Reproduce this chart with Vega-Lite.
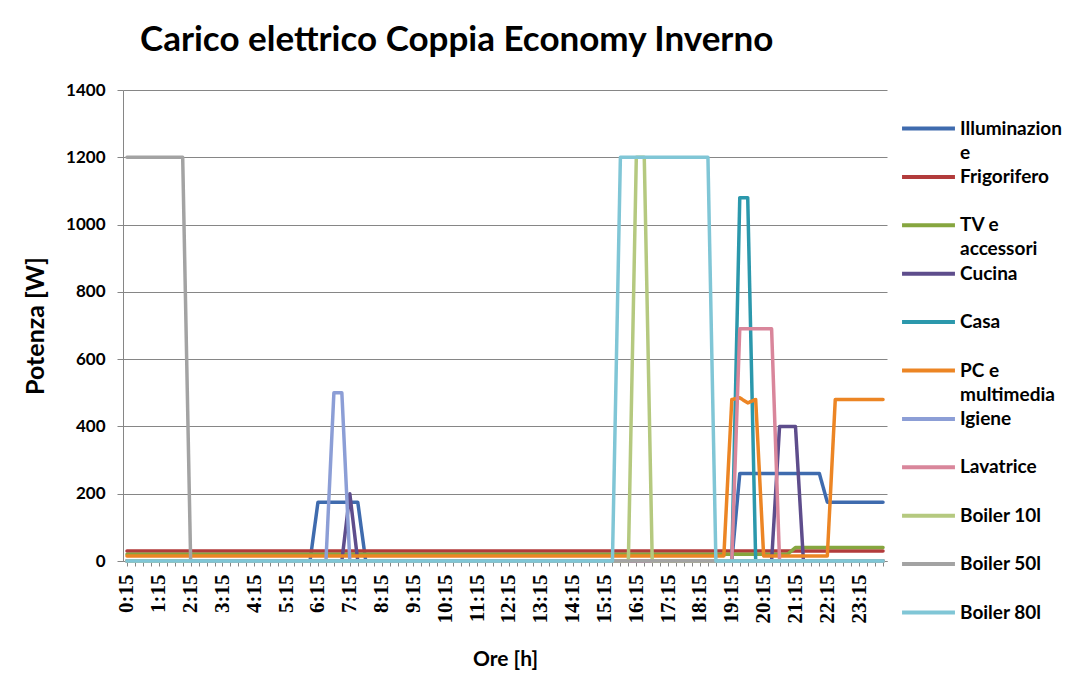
{
  "$schema": "https://vega.github.io/schema/vega-lite/v6.json",
  "width": 764,
  "height": 471,
  "autosize": "none",
  "padding": {"left": 123, "top": 90, "right": 183, "bottom": 121},
  "background": "white",
  "title": {"text": "Carico elettrico Coppia Economy Inverno", "anchor": "start", "frame": "group", "dx": 17, "offset": 23, "fontSize": 35, "font": "Lato", "fontWeight": "bold", "color": "black"},
  "data": {"values": [
{"t":"0:15","IL":0,"FR":30,"TV":20,"CU":0,"CA":0,"PC":15,"IG":0,"LA":0,"B10":0,"B50":1200,"B80":0},
{"t":"0:30","IL":0,"FR":30,"TV":20,"CU":0,"CA":0,"PC":15,"IG":0,"LA":0,"B10":0,"B50":1200,"B80":0},
{"t":"0:45","IL":0,"FR":30,"TV":20,"CU":0,"CA":0,"PC":15,"IG":0,"LA":0,"B10":0,"B50":1200,"B80":0},
{"t":"1:00","IL":0,"FR":30,"TV":20,"CU":0,"CA":0,"PC":15,"IG":0,"LA":0,"B10":0,"B50":1200,"B80":0},
{"t":"1:15","IL":0,"FR":30,"TV":20,"CU":0,"CA":0,"PC":15,"IG":0,"LA":0,"B10":0,"B50":1200,"B80":0},
{"t":"1:30","IL":0,"FR":30,"TV":20,"CU":0,"CA":0,"PC":15,"IG":0,"LA":0,"B10":0,"B50":1200,"B80":0},
{"t":"1:45","IL":0,"FR":30,"TV":20,"CU":0,"CA":0,"PC":15,"IG":0,"LA":0,"B10":0,"B50":1200,"B80":0},
{"t":"2:00","IL":0,"FR":30,"TV":20,"CU":0,"CA":0,"PC":15,"IG":0,"LA":0,"B10":0,"B50":1200,"B80":0},
{"t":"2:15","IL":0,"FR":30,"TV":20,"CU":0,"CA":0,"PC":15,"IG":0,"LA":0,"B10":0,"B50":0,"B80":0},
{"t":"2:30","IL":0,"FR":30,"TV":20,"CU":0,"CA":0,"PC":15,"IG":0,"LA":0,"B10":0,"B50":0,"B80":0},
{"t":"2:45","IL":0,"FR":30,"TV":20,"CU":0,"CA":0,"PC":15,"IG":0,"LA":0,"B10":0,"B50":0,"B80":0},
{"t":"3:00","IL":0,"FR":30,"TV":20,"CU":0,"CA":0,"PC":15,"IG":0,"LA":0,"B10":0,"B50":0,"B80":0},
{"t":"3:15","IL":0,"FR":30,"TV":20,"CU":0,"CA":0,"PC":15,"IG":0,"LA":0,"B10":0,"B50":0,"B80":0},
{"t":"3:30","IL":0,"FR":30,"TV":20,"CU":0,"CA":0,"PC":15,"IG":0,"LA":0,"B10":0,"B50":0,"B80":0},
{"t":"3:45","IL":0,"FR":30,"TV":20,"CU":0,"CA":0,"PC":15,"IG":0,"LA":0,"B10":0,"B50":0,"B80":0},
{"t":"4:00","IL":0,"FR":30,"TV":20,"CU":0,"CA":0,"PC":15,"IG":0,"LA":0,"B10":0,"B50":0,"B80":0},
{"t":"4:15","IL":0,"FR":30,"TV":20,"CU":0,"CA":0,"PC":15,"IG":0,"LA":0,"B10":0,"B50":0,"B80":0},
{"t":"4:30","IL":0,"FR":30,"TV":20,"CU":0,"CA":0,"PC":15,"IG":0,"LA":0,"B10":0,"B50":0,"B80":0},
{"t":"4:45","IL":0,"FR":30,"TV":20,"CU":0,"CA":0,"PC":15,"IG":0,"LA":0,"B10":0,"B50":0,"B80":0},
{"t":"5:00","IL":0,"FR":30,"TV":20,"CU":0,"CA":0,"PC":15,"IG":0,"LA":0,"B10":0,"B50":0,"B80":0},
{"t":"5:15","IL":0,"FR":30,"TV":20,"CU":0,"CA":0,"PC":15,"IG":0,"LA":0,"B10":0,"B50":0,"B80":0},
{"t":"5:30","IL":0,"FR":30,"TV":20,"CU":0,"CA":0,"PC":15,"IG":0,"LA":0,"B10":0,"B50":0,"B80":0},
{"t":"5:45","IL":0,"FR":30,"TV":20,"CU":0,"CA":0,"PC":15,"IG":0,"LA":0,"B10":0,"B50":0,"B80":0},
{"t":"6:00","IL":0,"FR":30,"TV":20,"CU":0,"CA":0,"PC":15,"IG":0,"LA":0,"B10":0,"B50":0,"B80":0},
{"t":"6:15","IL":175,"FR":30,"TV":20,"CU":0,"CA":0,"PC":15,"IG":0,"LA":0,"B10":0,"B50":0,"B80":0},
{"t":"6:30","IL":175,"FR":30,"TV":20,"CU":0,"CA":0,"PC":15,"IG":0,"LA":0,"B10":0,"B50":0,"B80":0},
{"t":"6:45","IL":175,"FR":30,"TV":20,"CU":0,"CA":0,"PC":15,"IG":500,"LA":0,"B10":0,"B50":0,"B80":0},
{"t":"7:00","IL":175,"FR":30,"TV":20,"CU":0,"CA":0,"PC":15,"IG":500,"LA":0,"B10":0,"B50":0,"B80":0},
{"t":"7:15","IL":175,"FR":30,"TV":20,"CU":200,"CA":0,"PC":15,"IG":0,"LA":0,"B10":0,"B50":0,"B80":0},
{"t":"7:30","IL":175,"FR":30,"TV":20,"CU":0,"CA":0,"PC":15,"IG":0,"LA":0,"B10":0,"B50":0,"B80":0},
{"t":"7:45","IL":0,"FR":30,"TV":20,"CU":0,"CA":0,"PC":15,"IG":0,"LA":0,"B10":0,"B50":0,"B80":0},
{"t":"8:00","IL":0,"FR":30,"TV":20,"CU":0,"CA":0,"PC":15,"IG":0,"LA":0,"B10":0,"B50":0,"B80":0},
{"t":"8:15","IL":0,"FR":30,"TV":20,"CU":0,"CA":0,"PC":15,"IG":0,"LA":0,"B10":0,"B50":0,"B80":0},
{"t":"8:30","IL":0,"FR":30,"TV":20,"CU":0,"CA":0,"PC":15,"IG":0,"LA":0,"B10":0,"B50":0,"B80":0},
{"t":"8:45","IL":0,"FR":30,"TV":20,"CU":0,"CA":0,"PC":15,"IG":0,"LA":0,"B10":0,"B50":0,"B80":0},
{"t":"9:00","IL":0,"FR":30,"TV":20,"CU":0,"CA":0,"PC":15,"IG":0,"LA":0,"B10":0,"B50":0,"B80":0},
{"t":"9:15","IL":0,"FR":30,"TV":20,"CU":0,"CA":0,"PC":15,"IG":0,"LA":0,"B10":0,"B50":0,"B80":0},
{"t":"9:30","IL":0,"FR":30,"TV":20,"CU":0,"CA":0,"PC":15,"IG":0,"LA":0,"B10":0,"B50":0,"B80":0},
{"t":"9:45","IL":0,"FR":30,"TV":20,"CU":0,"CA":0,"PC":15,"IG":0,"LA":0,"B10":0,"B50":0,"B80":0},
{"t":"10:00","IL":0,"FR":30,"TV":20,"CU":0,"CA":0,"PC":15,"IG":0,"LA":0,"B10":0,"B50":0,"B80":0},
{"t":"10:15","IL":0,"FR":30,"TV":20,"CU":0,"CA":0,"PC":15,"IG":0,"LA":0,"B10":0,"B50":0,"B80":0},
{"t":"10:30","IL":0,"FR":30,"TV":20,"CU":0,"CA":0,"PC":15,"IG":0,"LA":0,"B10":0,"B50":0,"B80":0},
{"t":"10:45","IL":0,"FR":30,"TV":20,"CU":0,"CA":0,"PC":15,"IG":0,"LA":0,"B10":0,"B50":0,"B80":0},
{"t":"11:00","IL":0,"FR":30,"TV":20,"CU":0,"CA":0,"PC":15,"IG":0,"LA":0,"B10":0,"B50":0,"B80":0},
{"t":"11:15","IL":0,"FR":30,"TV":20,"CU":0,"CA":0,"PC":15,"IG":0,"LA":0,"B10":0,"B50":0,"B80":0},
{"t":"11:30","IL":0,"FR":30,"TV":20,"CU":0,"CA":0,"PC":15,"IG":0,"LA":0,"B10":0,"B50":0,"B80":0},
{"t":"11:45","IL":0,"FR":30,"TV":20,"CU":0,"CA":0,"PC":15,"IG":0,"LA":0,"B10":0,"B50":0,"B80":0},
{"t":"12:00","IL":0,"FR":30,"TV":20,"CU":0,"CA":0,"PC":15,"IG":0,"LA":0,"B10":0,"B50":0,"B80":0},
{"t":"12:15","IL":0,"FR":30,"TV":20,"CU":0,"CA":0,"PC":15,"IG":0,"LA":0,"B10":0,"B50":0,"B80":0},
{"t":"12:30","IL":0,"FR":30,"TV":20,"CU":0,"CA":0,"PC":15,"IG":0,"LA":0,"B10":0,"B50":0,"B80":0},
{"t":"12:45","IL":0,"FR":30,"TV":20,"CU":0,"CA":0,"PC":15,"IG":0,"LA":0,"B10":0,"B50":0,"B80":0},
{"t":"13:00","IL":0,"FR":30,"TV":20,"CU":0,"CA":0,"PC":15,"IG":0,"LA":0,"B10":0,"B50":0,"B80":0},
{"t":"13:15","IL":0,"FR":30,"TV":20,"CU":0,"CA":0,"PC":15,"IG":0,"LA":0,"B10":0,"B50":0,"B80":0},
{"t":"13:30","IL":0,"FR":30,"TV":20,"CU":0,"CA":0,"PC":15,"IG":0,"LA":0,"B10":0,"B50":0,"B80":0},
{"t":"13:45","IL":0,"FR":30,"TV":20,"CU":0,"CA":0,"PC":15,"IG":0,"LA":0,"B10":0,"B50":0,"B80":0},
{"t":"14:00","IL":0,"FR":30,"TV":20,"CU":0,"CA":0,"PC":15,"IG":0,"LA":0,"B10":0,"B50":0,"B80":0},
{"t":"14:15","IL":0,"FR":30,"TV":20,"CU":0,"CA":0,"PC":15,"IG":0,"LA":0,"B10":0,"B50":0,"B80":0},
{"t":"14:30","IL":0,"FR":30,"TV":20,"CU":0,"CA":0,"PC":15,"IG":0,"LA":0,"B10":0,"B50":0,"B80":0},
{"t":"14:45","IL":0,"FR":30,"TV":20,"CU":0,"CA":0,"PC":15,"IG":0,"LA":0,"B10":0,"B50":0,"B80":0},
{"t":"15:00","IL":0,"FR":30,"TV":20,"CU":0,"CA":0,"PC":15,"IG":0,"LA":0,"B10":0,"B50":0,"B80":0},
{"t":"15:15","IL":0,"FR":30,"TV":20,"CU":0,"CA":0,"PC":15,"IG":0,"LA":0,"B10":0,"B50":0,"B80":0},
{"t":"15:30","IL":0,"FR":30,"TV":20,"CU":0,"CA":0,"PC":15,"IG":0,"LA":0,"B10":0,"B50":0,"B80":0},
{"t":"15:45","IL":0,"FR":30,"TV":20,"CU":0,"CA":0,"PC":15,"IG":0,"LA":0,"B10":0,"B50":0,"B80":1200},
{"t":"16:00","IL":0,"FR":30,"TV":20,"CU":0,"CA":0,"PC":15,"IG":0,"LA":0,"B10":0,"B50":0,"B80":1200},
{"t":"16:15","IL":0,"FR":30,"TV":20,"CU":0,"CA":0,"PC":15,"IG":0,"LA":0,"B10":1200,"B50":0,"B80":1200},
{"t":"16:30","IL":0,"FR":30,"TV":20,"CU":0,"CA":0,"PC":15,"IG":0,"LA":0,"B10":1200,"B50":0,"B80":1200},
{"t":"16:45","IL":0,"FR":30,"TV":20,"CU":0,"CA":0,"PC":15,"IG":0,"LA":0,"B10":0,"B50":0,"B80":1200},
{"t":"17:00","IL":0,"FR":30,"TV":20,"CU":0,"CA":0,"PC":15,"IG":0,"LA":0,"B10":0,"B50":0,"B80":1200},
{"t":"17:15","IL":0,"FR":30,"TV":20,"CU":0,"CA":0,"PC":15,"IG":0,"LA":0,"B10":0,"B50":0,"B80":1200},
{"t":"17:30","IL":0,"FR":30,"TV":20,"CU":0,"CA":0,"PC":15,"IG":0,"LA":0,"B10":0,"B50":0,"B80":1200},
{"t":"17:45","IL":0,"FR":30,"TV":20,"CU":0,"CA":0,"PC":15,"IG":0,"LA":0,"B10":0,"B50":0,"B80":1200},
{"t":"18:00","IL":0,"FR":30,"TV":20,"CU":0,"CA":0,"PC":15,"IG":0,"LA":0,"B10":0,"B50":0,"B80":1200},
{"t":"18:15","IL":0,"FR":30,"TV":20,"CU":0,"CA":0,"PC":15,"IG":0,"LA":0,"B10":0,"B50":0,"B80":1200},
{"t":"18:30","IL":0,"FR":30,"TV":20,"CU":0,"CA":0,"PC":15,"IG":0,"LA":0,"B10":0,"B50":0,"B80":1200},
{"t":"18:45","IL":0,"FR":30,"TV":20,"CU":0,"CA":0,"PC":15,"IG":0,"LA":0,"B10":0,"B50":0,"B80":0},
{"t":"19:00","IL":0,"FR":30,"TV":20,"CU":0,"CA":0,"PC":15,"IG":0,"LA":0,"B10":0,"B50":0,"B80":0},
{"t":"19:15","IL":0,"FR":30,"TV":20,"CU":0,"CA":0,"PC":480,"IG":0,"LA":0,"B10":0,"B50":0,"B80":0},
{"t":"19:30","IL":260,"FR":30,"TV":20,"CU":0,"CA":1080,"PC":485,"IG":0,"LA":690,"B10":0,"B50":0,"B80":0},
{"t":"19:45","IL":260,"FR":30,"TV":20,"CU":0,"CA":1080,"PC":470,"IG":0,"LA":690,"B10":0,"B50":0,"B80":0},
{"t":"20:00","IL":260,"FR":30,"TV":20,"CU":0,"CA":0,"PC":480,"IG":0,"LA":690,"B10":0,"B50":0,"B80":0},
{"t":"20:15","IL":260,"FR":30,"TV":20,"CU":0,"CA":0,"PC":15,"IG":0,"LA":690,"B10":0,"B50":0,"B80":0},
{"t":"20:30","IL":260,"FR":30,"TV":20,"CU":0,"CA":0,"PC":15,"IG":0,"LA":690,"B10":0,"B50":0,"B80":0},
{"t":"20:45","IL":260,"FR":30,"TV":20,"CU":400,"CA":0,"PC":15,"IG":0,"LA":0,"B10":0,"B50":0,"B80":0},
{"t":"21:00","IL":260,"FR":30,"TV":20,"CU":400,"CA":0,"PC":15,"IG":0,"LA":0,"B10":0,"B50":0,"B80":0},
{"t":"21:15","IL":260,"FR":30,"TV":40,"CU":400,"CA":0,"PC":15,"IG":0,"LA":0,"B10":0,"B50":0,"B80":0},
{"t":"21:30","IL":260,"FR":30,"TV":40,"CU":0,"CA":0,"PC":15,"IG":0,"LA":0,"B10":0,"B50":0,"B80":0},
{"t":"21:45","IL":260,"FR":30,"TV":40,"CU":0,"CA":0,"PC":15,"IG":0,"LA":0,"B10":0,"B50":0,"B80":0},
{"t":"22:00","IL":260,"FR":30,"TV":40,"CU":0,"CA":0,"PC":15,"IG":0,"LA":0,"B10":0,"B50":0,"B80":0},
{"t":"22:15","IL":175,"FR":30,"TV":40,"CU":0,"CA":0,"PC":15,"IG":0,"LA":0,"B10":0,"B50":0,"B80":0},
{"t":"22:30","IL":175,"FR":30,"TV":40,"CU":0,"CA":0,"PC":480,"IG":0,"LA":0,"B10":0,"B50":0,"B80":0},
{"t":"22:45","IL":175,"FR":30,"TV":40,"CU":0,"CA":0,"PC":480,"IG":0,"LA":0,"B10":0,"B50":0,"B80":0},
{"t":"23:00","IL":175,"FR":30,"TV":40,"CU":0,"CA":0,"PC":480,"IG":0,"LA":0,"B10":0,"B50":0,"B80":0},
{"t":"23:15","IL":175,"FR":30,"TV":40,"CU":0,"CA":0,"PC":480,"IG":0,"LA":0,"B10":0,"B50":0,"B80":0},
{"t":"23:30","IL":175,"FR":30,"TV":40,"CU":0,"CA":0,"PC":480,"IG":0,"LA":0,"B10":0,"B50":0,"B80":0},
{"t":"23:45","IL":175,"FR":30,"TV":40,"CU":0,"CA":0,"PC":480,"IG":0,"LA":0,"B10":0,"B50":0,"B80":0},
{"t":"0:00","IL":175,"FR":30,"TV":40,"CU":0,"CA":0,"PC":480,"IG":0,"LA":0,"B10":0,"B50":0,"B80":0}
  ]},
  "transform": [
    {"fold": ["IL", "FR", "TV", "CU", "CA", "PC", "IG", "LA", "B10", "B50", "B80"], "as": ["serie", "W"]}
  ],
  "mark": {"type": "line", "strokeWidth": 3.5, "strokeJoin": "round", "strokeCap": "round"},
  "encoding": {
    "x": {
      "field": "t", "type": "ordinal", "sort": null,
      "scale": {"type": "point", "padding": 0.5},
      "axis": {
        "title": "Ore [h]", "labelAngle": 270, "labelOverlap": false,
        "labelExpr": "slice(datum.value, -2) == '15' ? datum.value : ''",
        "labelFont": "Liberation Serif", "labelFontSize": 21, "labelFontWeight": "bold", "labelColor": "black", "labelPadding": 8,
        "tickSize": 5, "tickColor": "#868686", "domainColor": "#868686",
        "titleFontSize": 21, "titleFontWeight": "bold", "titleColor": "black", "titlePadding": 26,
        "grid": false
      }
    },
    "y": {
      "field": "W", "type": "quantitative",
      "scale": {"domain": [0, 1400], "nice": false},
      "axis": {
        "title": "Potenza [W]", "values": [0, 200, 400, 600, 800, 1000, 1200, 1400], "format": "d",
        "labelFontSize": 17, "labelFontWeight": "bold", "labelColor": "black", "labelPadding": 12,
        "tickSize": 6, "tickColor": "#868686", "domainColor": "#868686",
        "grid": true, "gridColor": "#868686", "gridWidth": 1,
        "titleFontSize": 25, "titleFontWeight": "bold", "titleColor": "black", "titlePadding": 17
      }
    },
    "color": {
      "field": "serie", "type": "nominal",
      "scale": {
        "domain": ["IL", "FR", "TV", "CU", "CA", "PC", "IG", "LA", "B10", "B50", "B80"],
        "range": ["#3F6BAE", "#B23B3B", "#86A63F", "#5E4D8C", "#2B98AC", "#EC8524", "#8C9ED6", "#D9869B", "#B5C97F", "#A3A3A3", "#80C6D6"]
      },
      "legend": {
        "title": null, "orient": "none", "legendX": 777, "legendY": 10,
        "symbolType": "stroke", "symbolStrokeWidth": 4, "symbolSize": 2800,
        "labelFontSize": 19, "labelFontWeight": "bold", "labelColor": "black", "labelLimit": 200,
        "labelOffset": 3, "rowPadding": 9.4, "gridAlign": "all",
        "labelExpr": "{'IL':'Illuminazion','FR':'Frigorifero','TV':'TV e','CU':'Cucina','CA':'Casa','PC':'PC e','IG':'Igiene','LA':'Lavatrice','B10':'Boiler 10l','B50':'Boiler 50l','B80':'Boiler 80l'}[datum.value]"
      }
    },
    "strokeDash": {
      "field": "serie", "type": "nominal",
      "scale": {
        "domain": ["IL", "FR", "TV", "CU", "CA", "PC", "IG", "LA", "B10", "B50", "B80", "zz"],
        "range": [[1, 0], [1, 0], [1, 0], [1, 0], [1, 0], [1, 0], [1, 0], [1, 0], [1, 0], [1, 0], [1, 0], [1, 0]]
      },
      "legend": {
        "title": null, "orient": "none", "legendX": 777, "legendY": 34,
        "symbolType": "stroke", "symbolStrokeWidth": 4, "symbolSize": 2800, "symbolOpacity": 0,
        "labelFontSize": 19, "labelFontWeight": "bold", "labelColor": "black", "labelLimit": 200,
        "labelOffset": 3, "rowPadding": 9.4, "gridAlign": "all",
        "labelExpr": "{'IL':'e','TV':'accessori','PC':'multimedia'}[datum.value] || ''"
      }
    }
  },
  "config": {
    "font": "Lato",
    "view": {"stroke": null}
  }
}
